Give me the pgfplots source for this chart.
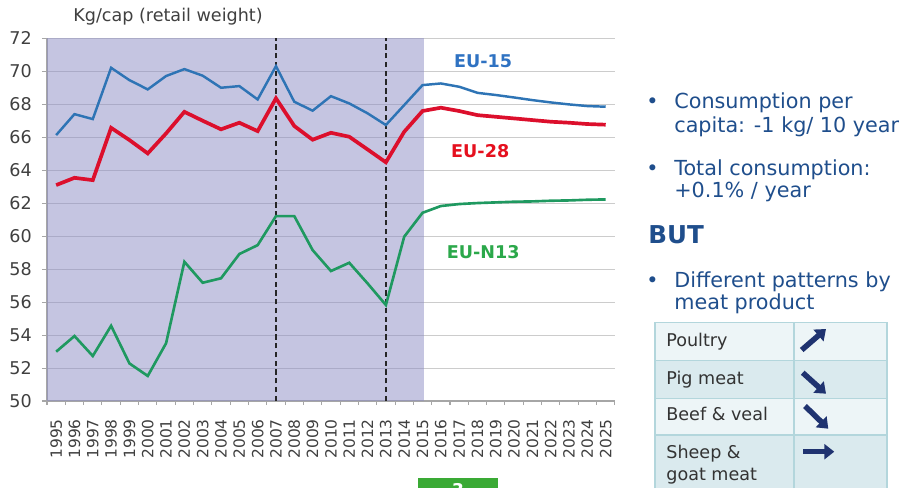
\documentclass[border=0pt]{standalone}
\usepackage{pgfplots}
\pgfplotsset{compat=1.18}
\usepackage{pgfplotstable}
\usepackage{fontspec}
\setmainfont{DejaVu Sans}
\usetikzlibrary{arrows.meta}

\definecolor{eublue}{HTML}{2E74B5}
\definecolor{eured}{HTML}{DC0F2C}
\definecolor{eugreen}{HTML}{1F9960}
\definecolor{labblue}{HTML}{2F72C2}
\definecolor{labred}{HTML}{E5101E}
\definecolor{labgreen}{HTML}{2BA84A}
\definecolor{shade}{HTML}{8C8CC4}
\definecolor{txtblue}{HTML}{1F4E8C}
\definecolor{navy}{HTML}{1F3370}
\definecolor{rowa}{HTML}{EDF5F7}
\definecolor{rowb}{HTML}{DAEAEE}
\definecolor{tabline}{HTML}{B3D6DC}
\definecolor{slidegreen}{HTML}{3AAA35}
\definecolor{ticktxt}{HTML}{404040}

% kg/capita, retail weight
\pgfplotstableread{
year eu15  eu28  eun13
1995 66.12 63.09 52.99
1996 67.39 63.53 53.94
1997 67.09 63.39 52.73
1998 70.20 66.56 54.56
1999 69.45 65.82 52.28
2000 68.89 65.01 51.52
2001 69.70 66.22 53.50
2002 70.12 67.53 58.44
2003 69.72 66.99 57.17
2004 68.99 66.47 57.44
2005 69.09 66.87 58.91
2006 68.28 66.36 59.45
2007 70.30 68.35 61.21
2008 68.14 66.67 61.21
2009 67.60 65.84 59.15
2010 68.48 66.26 57.88
2011 68.04 66.02 58.38
2012 67.44 65.25 57.13
2013 66.73 64.47 55.82
2014 67.94 66.32 59.96
2015 69.15 67.58 61.41
2016 69.25 67.78 61.82
2017 69.05 67.58 61.94
2018 68.68 67.33 62.00
2019 68.55 67.23 62.04
2020 68.40 67.13 62.08
2021 68.24 67.03 62.10
2022 68.10 66.93 62.14
2023 67.98 66.87 62.16
2024 67.88 66.79 62.20
2025 67.84 66.75 62.22
}\meat

\begin{document}
\begin{tikzpicture}[x=0.02cm,y=0.02cm]
\useasboundingbox (0,0) rectangle (910,488);
\begin{axis}[
    at={(0.94cm,1.74cm)}, anchor=south west,
    scale only axis,
    width=11.36cm, height=7.26cm,
    xmin=1994.5, xmax=2025.5,
    ymin=50, ymax=72,
    axis lines=left,
    axis line style={-, draw=gray!70, line width=0.6pt},
    ytick={50,52,...,72},
    xtick={1995,...,2025},
    minor xtick={1994.5,1995.5,...,2025.5},
    every major x tick/.style={draw=none},
    tick align=outside,
    major tick length=0.1cm,
    minor tick length=0.08cm,
    tick style={draw=gray!70, line width=0.6pt},
    ymajorgrids,
    grid style={gray!40, line width=0.6pt},
    /pgf/number format/assume math mode=true,
    /pgf/number format/1000 sep={},
    yticklabel style={font=\fontsize{10}{12}\selectfont, text=ticktxt, xshift=-0.08cm},
    xticklabel style={font=\fontsize{8.8}{10}\selectfont, text=ticktxt, rotate=90, anchor=east},
    xticklabel shift=0.14cm,
    clip=false,
]
\addplot[draw=none, fill=shade, fill opacity=0.5, forget plot]
    coordinates {(1994.5,50) (1994.5,72) (2015.08,72) (2015.08,50)} -- cycle;
\addplot[densely dashed, black!85, line width=0.7pt, forget plot] coordinates {(2007,50) (2007,72)};
\addplot[densely dashed, black!85, line width=0.7pt, forget plot] coordinates {(2013,50) (2013,72)};
\addplot[eublue, line width=1.4pt] table[x=year, y=eu15] {\meat};
\addplot[eured, line width=2.1pt] table[x=year, y=eu28] {\meat};
\addplot[eugreen, line width=1.5pt] table[x=year, y=eun13] {\meat};
\node[text=labblue, font=\bfseries\fontsize{10}{12}\selectfont] at (axis cs:2018.31,70.58) {EU-15};
\node[text=labred, font=\bfseries\fontsize{10}{12}\selectfont] at (axis cs:2018.15,65.12) {EU-28};
\node[text=labgreen, font=\bfseries\fontsize{10}{12}\selectfont] at (axis cs:2018.31,59.0) {EU-N13};
\end{axis}

% title of the value axis
\node[text=ticktxt, font=\fontsize{10}{12}\selectfont] at (168,471) {Kg/cap (retail weight)};

% notes on the right
\begin{scope}[every node/.style={anchor=base west, text=txtblue, inner sep=0pt, font=\fontsize{11.8}{14}\selectfont}]
\node at (646,380) {•};
\node at (674,380) {Consumption per};
\node at (674,356) {capita: -1 kg/ 10 year};
\node at (646,313) {•};
\node at (674,313) {Total consumption:};
\node at (674,291) {+0.1\% / year};
\node[font=\bfseries\fontsize{14}{16}\selectfont] at (648,245) {BUT};
\node at (646,201) {•};
\node at (674,201) {Different patterns by};
\node at (674,179) {meat product};
\end{scope}

% table of trends
\fill[rowa] (655,165.3) rectangle (887,127.3);
\fill[rowb] (655,127.3) rectangle (887,89.7);
\fill[rowa] (655,89.7) rectangle (887,53);
\fill[rowb] (655,53) rectangle (887,0);
\draw[tabline, line width=0.7pt] (655,0) -- (655,165.3) -- (887,165.3) -- (887,0)
    (794,0) -- (794,165.3)
    (655,127.3) -- (887,127.3) (655,89.7) -- (887,89.7) (655,53) -- (887,53);
\begin{scope}[every node/.style={anchor=base west, text=black!80, inner sep=0pt, font=\fontsize{10}{12}\selectfont}]
\node at (666,141.3) {Poultry};
\node at (666,104) {Pig meat};
\node at (666,67.3) {Beef \& veal};
\node at (666,30) {Sheep \&};
\node at (666,8) {goat meat};
\end{scope}
\begin{scope}[navy, line width=0.11cm, -{Triangle[width=0.3cm,length=0.2cm]}]
\draw (801.7,138) -- (826,159);
\draw (802.7,115.3) -- (826,94.3);
\draw (805,82) -- (828.3,59.3);
\draw (803.3,36.3) -- (834.3,36.3);
\end{scope}

% slide number
\begin{scope}
\clip (0,0) rectangle (910,488);
\fill[slidegreen] (418,0) rectangle (498,10);
\node[text=white, font=\bfseries\fontsize{10}{12}\selectfont, anchor=north] at (458,11) {3};
\end{scope}
\end{tikzpicture}
\end{document}
